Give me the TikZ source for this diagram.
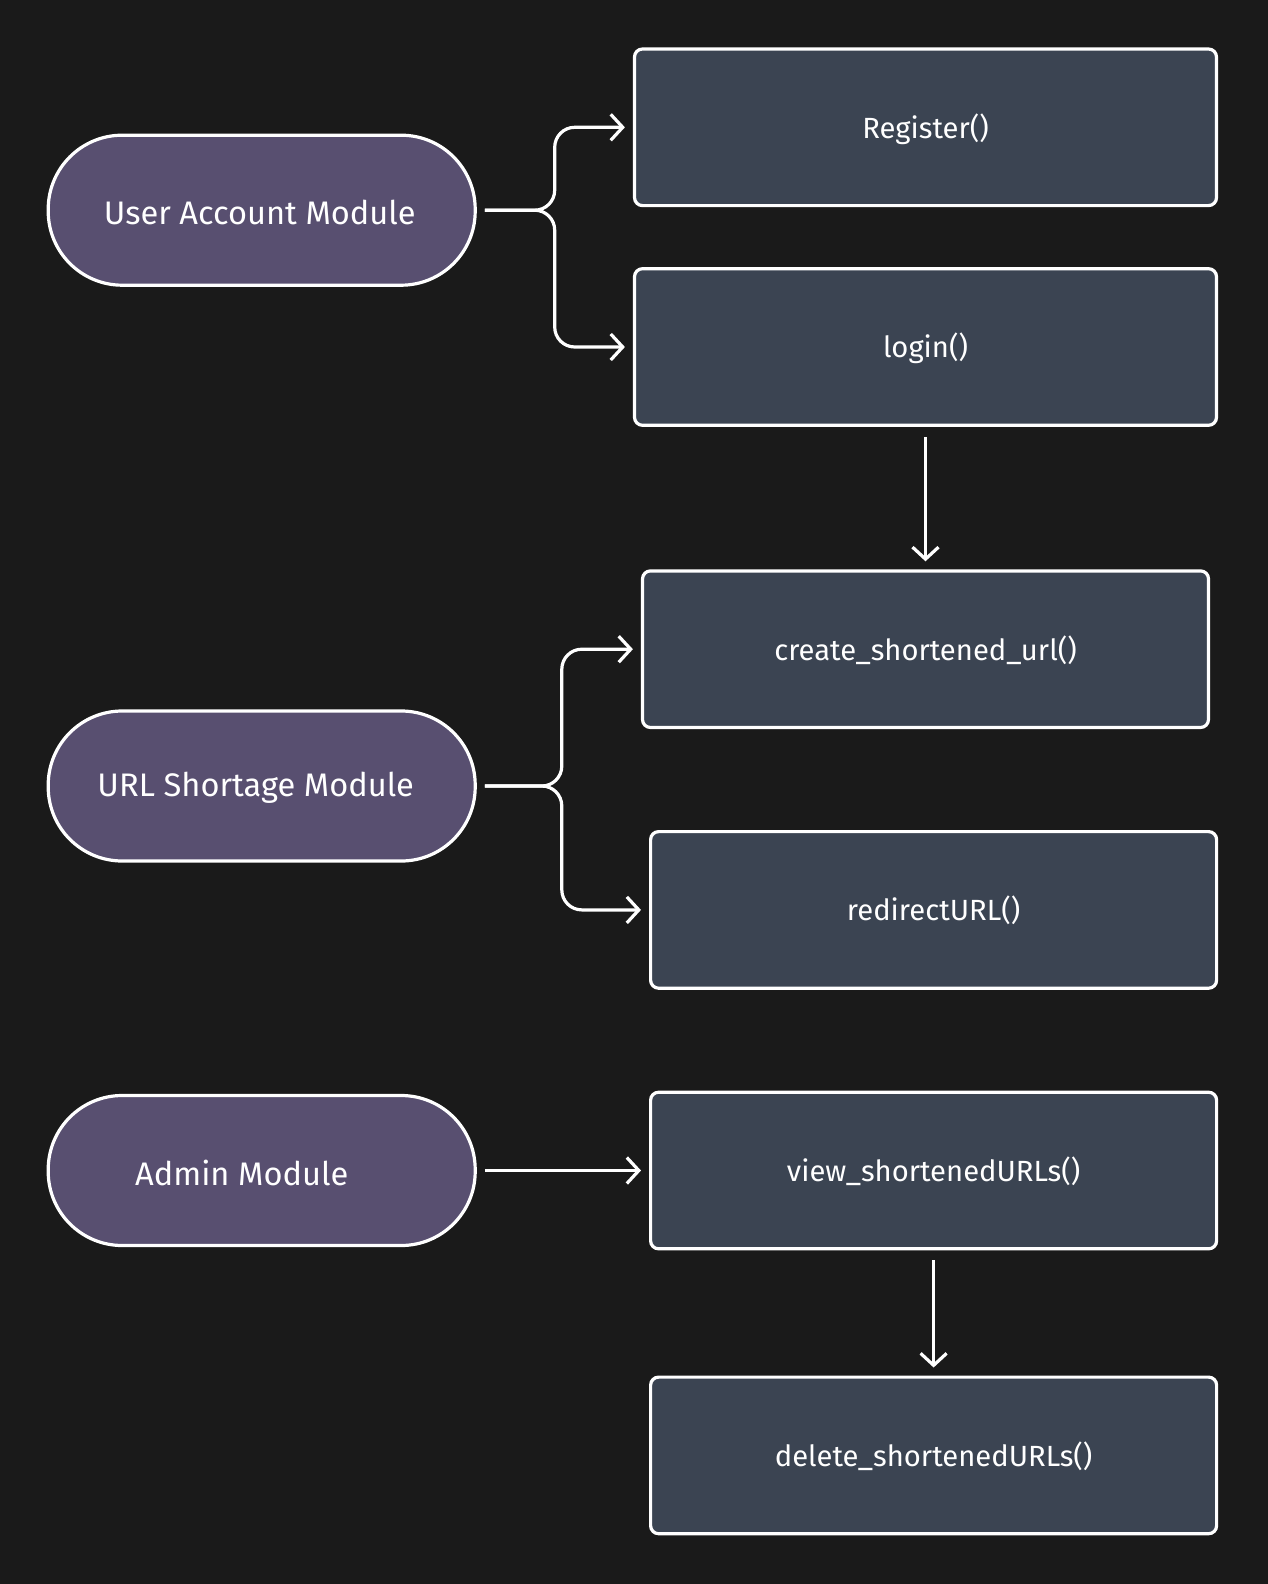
\documentclass[tikz,border=0pt]{standalone}
\usepackage{fontspec}
\setmainfont{Fira Sans}
\usetikzlibrary{arrows.meta}
\definecolor{bg}{HTML}{1A1A1A}
\definecolor{boxfill}{HTML}{3B4452}
\definecolor{pillfill}{HTML}{584F70}
\begin{document}
\begin{tikzpicture}[x=0.5pt,y=-0.5pt,
  func/.style={draw=white, line width=1.6pt, fill=boxfill, rounded corners=4pt,
    minimum width=283pt, minimum height=78.3pt, text=white,
    font=\fontsize{14.6}{16}\selectfont, inner sep=0pt, text height=12.8pt, text depth=2pt},
  pill/.style={draw=white, line width=1.6pt, fill=pillfill, rounded corners=37pt,
    minimum width=213.5pt, minimum height=75pt, inner sep=0pt},
  pilltext/.style={text=white, font=\fontsize{16.3}{19}\selectfont, yshift=-1pt},
  conn/.style={draw=white, line width=1.6pt, rounded corners=10pt,
    -{Straight Barb[length=6pt,width=13pt]}, shorten >=4pt}
]
\fill[bg] (0,0) rectangle (1268,1584);
\useasboundingbox (0,0) rectangle (1268,1584);

% pills
\node[pill, label={[pilltext, xshift=-1pt]center:User Account Module}] (u) at (261.7,210.2) {};
\node[pill, label={[pilltext, xshift=-3pt]center:URL Shortage Module}] (s) at (261.7,786) {};
\node[pill, label={[pilltext, xshift=-10pt]center:Admin Module}] (a) at (261.7,1170.5) {};

% function boxes
\node[func, minimum width=291pt] (reg) at (925.5,127.3) {Register()};
\node[func, minimum width=291pt] (login) at (925.5,347) {login()};
\node[func] (create) at (925.5,649.2) {create\_shortened\_url()};
\node[func] (redir) at (933.6,909.9) {redirectURL()};
\node[func] (view) at (933.6,1170.5) {view\_shortenedURLs()};
\node[func] (del) at (933.6,1455.4) {delete\_shortenedURLs()};

% branch coordinates
\coordinate (b1) at (554.7,0);
\coordinate (b2) at (561.8,0);

% connectors
\draw[conn] ([xshift=4pt]u.east) -- (b1 |- u.east) |- (reg.west);
\draw[conn] ([xshift=4pt]u.east) -- (b1 |- u.east) |- (login.west);
\draw[conn] ([yshift=-5pt]login.south) -- (create.north);
\draw[conn] ([xshift=4pt]s.east) -- (b2 |- s.east) |- (create.west);
\draw[conn] ([xshift=4pt]s.east) -- (b2 |- s.east) |- (redir.west);
\draw[conn] ([xshift=4pt]a.east) -- (view.west);
\draw[conn] ([yshift=-5pt]view.south) -- (del.north);
\end{tikzpicture}
\end{document}
